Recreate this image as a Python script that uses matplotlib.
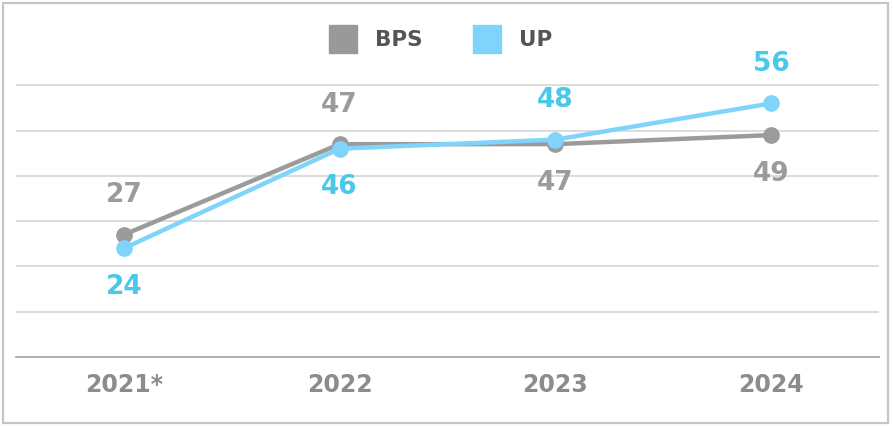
import matplotlib.pyplot as plt
from matplotlib.patches import Rectangle

# data
years = ['2021*', '2022', '2023', '2024']
bps = [27, 47, 47, 49]
up = [24, 46, 48, 56]
# label placement: +1 above point, -1 below
bps_pos = [1, 1, -1, -1]
up_pos = [-1, -1, 1, 1]

grey = '#9b9b9b'
blue_line = '#80d4fb'
blue_text = '#4ac8ea'

plt.rcParams['font.family'] = ['DejaVu Sans']

fig = plt.figure(figsize=(8.93, 4.27), dpi=100)
ax = fig.add_axes([16/893, 69/427, 863/893, 317/427])

x = range(len(years))
ax.plot(x, bps, color=grey, lw=3.2, marker='o', ms=11, zorder=3, solid_capstyle='round')
ax.plot(x, up, color=blue_line, lw=3.2, marker='o', ms=11, zorder=4, solid_capstyle='round')

for i in x:
    for vals, pos, c in ((bps, bps_pos, grey), (up, up_pos, blue_text)):
        off = 29 if pos[i] > 0 else -27
        ax.annotate(str(vals[i]), (i, vals[i]), xytext=(0, off), textcoords='offset points',
                    ha='center', va='center', fontsize=19, fontweight='bold', color=c)

ax.set_xlim(-0.5, 3.5)
ax.set_ylim(0, 70)
ax.set_yticks([10, 20, 30, 40, 50, 60])
ax.yaxis.grid(True, color='#d6d6d6', lw=1.2)
ax.set_axisbelow(True)
ax.tick_params(axis='y', left=False, labelleft=False)
ax.set_xticks(list(x))
ax.set_xticklabels(years, fontsize=17, fontweight='bold', color='#8c8c8c')
ax.tick_params(axis='x', length=0, pad=11)
for s in ['top', 'right', 'left']:
    ax.spines[s].set_visible(False)
ax.spines['bottom'].set_color('#a8a8a8')
ax.spines['bottom'].set_linewidth(1.3)

# legend
fig.patches.append(Rectangle((329/893, (427-54)/427), 28/893, 28/427, transform=fig.transFigure,
                             color='#999999', zorder=5))
fig.text(375/893, (427-40)/427, 'BPS', fontsize=15.5, fontweight='bold', color='#555555', va='center')
fig.patches.append(Rectangle((473/893, (427-54)/427), 28/893, 28/427, transform=fig.transFigure,
                             color=blue_line, zorder=5))
fig.text(519/893, (427-40)/427, 'UP', fontsize=15.5, fontweight='bold', color='#555555', va='center')

# outer frame
fig.patches.append(Rectangle((3/893, 3/427), 885/893, 420/427, transform=fig.transFigure,
                             fill=False, edgecolor='#c6c6c6', lw=1.6))

fig.savefig('out.png', dpi=100)
